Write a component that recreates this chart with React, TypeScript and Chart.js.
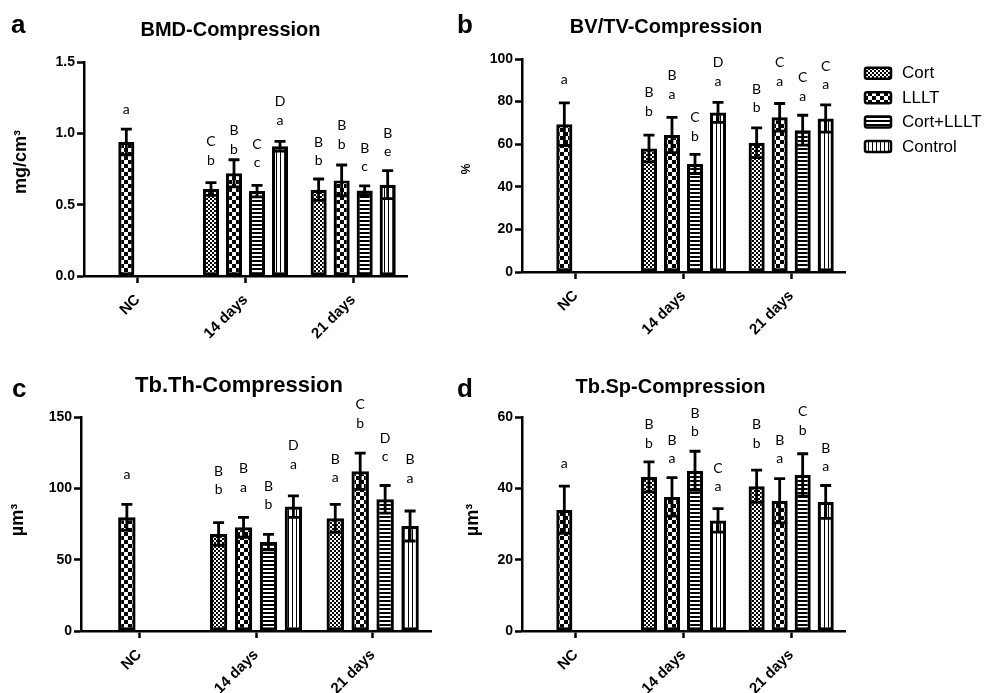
import React, { useEffect, useRef } from "react";
import { Chart, registerables } from "chart.js";
Chart.register(...registerables);

// ---------- shared categories / series ----------
const categories = ["NC", "14 days", "21 days"];
const seriesNames = ["Cort", "LLLT", "Cort+LLLT", "Control"];

// ---------- a: BMD (mg/cm3) ----------
const bmdCort = [null, 0.61, 0.605];
const bmdLllt = [0.94, 0.72, 0.67];
const bmdCortLllt = [null, 0.595, 0.6];
const bmdControl = [null, 0.91, 0.64];
const bmdCortSd = [null, 0.045, 0.075];
const bmdLlltSd = [0.09, 0.095, 0.108];
const bmdCortLlltSd = [null, 0.04, 0.032];
const bmdControlSd = [null, 0.034, 0.098];
const bmdCortSig = ["", "C b", "B b"];
const bmdLlltSig = ["a", "B b", "B b"];
const bmdCortLlltSig = ["", "C c", "B c"];
const bmdControlSig = ["", "D a", "B e"];
const bmdCortSigAt = [null, 0.813, 0.808];
const bmdLlltSigAt = [1.168, 0.89, 0.925];
const bmdCortLlltSigAt = [null, 0.794, 0.766];
const bmdControlSigAt = [null, 1.093, 0.871];
const bmdTicks = [0, 1.5, 0.5];

// ---------- b: BV/TV (%) ----------
const bvCort = [null, 58, 60.7];
const bvLllt = [69.4, 64.3, 72.6];
const bvCortLllt = [null, 50.7, 66.6];
const bvControl = [null, 74.9, 72.1];
const bvCortSd = [null, 6.3, 7];
const bvLlltSd = [10, 8.3, 6.5];
const bvCortLlltSd = [null, 4.5, 7];
const bvControlSd = [null, 4.7, 6.4];
const bvCortSig = ["", "B b", "B b"];
const bvLlltSig = ["a", "B a", "C a"];
const bvCortLlltSig = ["", "C b", "C a"];
const bvControlSig = ["", "D a", "C a"];
const bvCortSigAt = [null, 75.5, 77.1];
const bvLlltSigAt = [90.4, 83.5, 89.6];
const bvCortLlltSigAt = [null, 63.8, 82.5];
const bvControlSigAt = [null, 89.6, 88.0];
const bvTicks = [0, 100, 20];

// ---------- c: Tb.Th (µm3) ----------
const thCort = [null, 68, 79];
const thLllt = [79.7, 72.7, 112];
const thCortLllt = [null, 62.3, 92.3];
const thControl = [null, 87.2, 73.6];
const thCortSd = [null, 7.9, 9.8];
const thLlltSd = [9.1, 7, 12.7];
const thCortLlltSd = [null, 5.4, 9.7];
const thControlSd = [null, 7.5, 10.5];
const thCortSig = ["", "B b", "B a"];
const thLlltSig = ["a", "B a", "C b"];
const thCortLlltSig = ["", "B b", "D c"];
const thControlSig = ["", "D a", "B a"];
const thCortSigAt = [null, 98.9, 107.5];
const thLlltSigAt = [109.4, 100.8, 145.8];
const thCortLlltSigAt = [null, 88.4, 122.3];
const thControlSigAt = [null, 116.9, 107.1];
const thTicks = [0, 150, 50];

// ---------- d: Tb.Sp (µm3) ----------
const spCort = [null, 43.2, 40.6];
const spLllt = [34.0, 37.6, 36.5];
const spCortLllt = [null, 44.9, 43.8];
const spControl = [null, 31.0, 36.2];
const spCortSd = [null, 4.2, 4.5];
const spLlltSd = [6.6, 5.4, 6.2];
const spCortLlltSd = [null, 5.5, 5.9];
const spControlSd = [null, 3.3, 4.6];
const spCortSig = ["", "B b", "B b"];
const spLlltSig = ["a", "B a", "B a"];
const spCortLlltSig = ["", "B b", "C b"];
const spControlSig = ["", "C a", "B a"];
const spCortSigAt = [null, 52.7, 52.7];
const spLlltSigAt = [46.9, 48.3, 48.3];
const spCortLlltSigAt = [null, 55.8, 56.3];
const spControlSigAt = [null, 40.4, 46.0];
const spTicks = [0, 60, 20];

const W = 984;
const H = 693;
const Y_W = 60;
const X_H = 80;
const SANS = "'Liberation Sans', Arial, sans-serif";
const SIG_FONT = "14px Lato, 'Open Sans', sans-serif";

function makeTile(w: number, h: number, draw: (g: CanvasRenderingContext2D) => void) {
  const c = document.createElement("canvas");
  c.width = w;
  c.height = h;
  const g = c.getContext("2d")!;
  g.fillStyle = "#fff";
  g.fillRect(0, 0, w, h);
  g.fillStyle = "#000";
  draw(g);
  return g.createPattern(c, "repeat")!;
}

function makePatterns() {
  return [
    makeTile(4, 4, (g) => { g.fillRect(0, 0, 2, 2); g.fillRect(2, 2, 2, 2); }),
    makeTile(8, 8, (g) => { g.fillRect(0, 0, 4, 4); g.fillRect(4, 4, 4, 4); }),
    makeTile(4, 4, (g) => { g.fillRect(0, 0, 4, 2); }),
    makeTile(4, 4, (g) => { g.fillRect(0, 0, 1, 4); }),
  ];
}

const decorPlugin = {
  id: "decor",
  afterDatasetsDraw(chart: any) {
    const ctx = chart.ctx;
    const ys = chart.scales.y;
    ctx.save();
    chart.data.datasets.forEach((ds: any, i: number) => {
      const meta = chart.getDatasetMeta(i);
      ds.data.forEach((v: number | null, j: number) => {
        if (v == null) return;
        const el = meta.data[j];
        const x = el.x;
        const sd = ds.sd[j] || 0;
        const t = ys.getPixelForValue(v + sd);
        const b = ys.getPixelForValue(v - sd);
        ctx.strokeStyle = "#000";
        ctx.lineWidth = 2.8;
        ctx.beginPath();
        ctx.moveTo(x, t);
        ctx.lineTo(x, b);
        ctx.moveTo(x - 5.5, t);
        ctx.lineTo(x + 5.5, t);
        ctx.moveTo(x - 5.5, b);
        ctx.lineTo(x + 5.5, b);
        ctx.stroke();
        const parts = String(ds.sig[j] || "").split(" ").filter((s: string) => s);
        if (parts.length && ds.sigAt[j] != null) {
          const ly = ys.getPixelForValue(ds.sigAt[j]);
          ctx.fillStyle = "#000";
          ctx.font = SIG_FONT;
          ctx.textAlign = "center";
          ctx.textBaseline = "middle";
          for (let k = 0; k < parts.length; k++) {
            ctx.fillText(parts[parts.length - 1 - k], x, ly - k * 18.5);
          }
        }
      });
    });
    ctx.restore();
  },
  afterDraw(chart: any, _a: any, o: any) {
    const ctx = chart.ctx;
    ctx.save();
    ctx.fillStyle = "#000";
    // panel letter
    ctx.font = `bold 26px ${SANS}`;
    ctx.textAlign = "left";
    ctx.textBaseline = "alphabetic";
    ctx.fillText(o.letter, o.letterX, o.letterY);
    // title
    ctx.font = `bold ${o.titleSize}px ${SANS}`;
    ctx.textAlign = "center";
    ctx.fillText(o.title, o.titleX, o.titleY);
    // y-axis title
    ctx.save();
    ctx.translate(o.yTitleX, o.yTitleY);
    ctx.rotate(-Math.PI / 2);
    ctx.font = `bold ${o.yTitleSize}px ${SANS}`;
    ctx.textAlign = "center";
    ctx.textBaseline = "alphabetic";
    ctx.fillText(o.yTitle, 0, 0);
    ctx.restore();
    // legend
    if (o.legend) {
      const L = o.legend;
      chart.data.datasets.forEach((ds: any, i: number) => {
        const cy = L.y + i * L.step;
        ctx.beginPath();
        ctx.roundRect(L.x, cy - 5.5, 26, 11, 2);
        ctx.fillStyle = ds.backgroundColor;
        ctx.fill();
        ctx.strokeStyle = "#000";
        ctx.lineWidth = 2.5;
        ctx.stroke();
        ctx.fillStyle = "#000";
        ctx.font = `17px ${SANS}`;
        ctx.textAlign = "left";
        ctx.textBaseline = "middle";
        ctx.fillText(ds.label, L.x + 37, cy + 0.5);
      });
    }
    ctx.restore();
  },
};

type PanelDef = {
  area: { left: number; top: number; right: number; bottom: number };
  series: (number | null)[][];
  sds: (number | null)[][];
  sigs: string[][];
  sigAts: (number | null)[][];
  ticks: number[];
  decimals: number;
  decor: any;
};

const panels: PanelDef[] = [
  {
    area: { left: 84, top: 62, right: 407, bottom: 276 },
    series: [bmdCort, bmdLllt, bmdCortLllt, bmdControl],
    sds: [bmdCortSd, bmdLlltSd, bmdCortLlltSd, bmdControlSd],
    sigs: [bmdCortSig, bmdLlltSig, bmdCortLlltSig, bmdControlSig],
    sigAts: [bmdCortSigAt, bmdLlltSigAt, bmdCortLlltSigAt, bmdControlSigAt],
    ticks: bmdTicks,
    decimals: 1,
    decor: {
      letter: "a", letterX: 11, letterY: 33,
      title: "BMD-Compression", titleX: 230.5, titleY: 36, titleSize: 20,
      yTitle: "mg/cm³", yTitleX: 26, yTitleY: 162, yTitleSize: 18,
    },
  },
  {
    area: { left: 522, top: 59, right: 845, bottom: 272 },
    series: [bvCort, bvLllt, bvCortLllt, bvControl],
    sds: [bvCortSd, bvLlltSd, bvCortLlltSd, bvControlSd],
    sigs: [bvCortSig, bvLlltSig, bvCortLlltSig, bvControlSig],
    sigAts: [bvCortSigAt, bvLlltSigAt, bvCortLlltSigAt, bvControlSigAt],
    ticks: bvTicks,
    decimals: 0,
    decor: {
      letter: "b", letterX: 457, letterY: 33,
      title: "BV/TV-Compression", titleX: 666, titleY: 33, titleSize: 20,
      yTitle: "%", yTitleX: 470, yTitleY: 169, yTitleSize: 12,
      legend: { x: 865, y: 73.3, step: 24.4 },
    },
  },
  {
    area: { left: 81, top: 417, right: 431, bottom: 631 },
    series: [thCort, thLllt, thCortLllt, thControl],
    sds: [thCortSd, thLlltSd, thCortLlltSd, thControlSd],
    sigs: [thCortSig, thLlltSig, thCortLlltSig, thControlSig],
    sigAts: [thCortSigAt, thLlltSigAt, thCortLlltSigAt, thControlSigAt],
    ticks: thTicks,
    decimals: 0,
    decor: {
      letter: "c", letterX: 12, letterY: 397,
      title: "Tb.Th-Compression", titleX: 239, titleY: 392, titleSize: 22,
      yTitle: "µm³", yTitleX: 23, yTitleY: 520, yTitleSize: 18,
    },
  },
  {
    area: { left: 522, top: 417, right: 845, bottom: 631 },
    series: [spCort, spLllt, spCortLllt, spControl],
    sds: [spCortSd, spLlltSd, spCortLlltSd, spControlSd],
    sigs: [spCortSig, spLlltSig, spCortLlltSig, spControlSig],
    sigAts: [spCortSigAt, spLlltSigAt, spCortLlltSigAt, spControlSigAt],
    ticks: spTicks,
    decimals: 0,
    decor: {
      letter: "d", letterX: 457, letterY: 397,
      title: "Tb.Sp-Compression", titleX: 670.5, titleY: 393, titleSize: 20,
      yTitle: "µm³", yTitleX: 478, yTitleY: 520, yTitleSize: 18,
    },
  },
];

function buildConfig(p: PanelDef, patterns: CanvasPattern[]): any {
  const yFont = { family: SANS, size: 14, weight: "bold" as const };
  const xFont = { family: SANS, size: 15, weight: "bold" as const };
  return {
    type: "bar",
    data: {
      labels: categories,
      datasets: seriesNames.map((name, i) => ({
        label: name,
        data: p.series[i],
        sd: p.sds[i],
        sig: p.sigs[i],
        sigAt: p.sigAts[i],
        backgroundColor: patterns[i],
        borderColor: "#000",
        borderWidth: 3.2,
        borderSkipped: false,
        categoryPercentage: 0.855,
        barPercentage: 0.7,
      })),
    },
    options: {
      responsive: false,
      animation: false,
      events: [],
      layout: {
        padding: {
          left: p.area.left - Y_W,
          top: p.area.top,
          right: W - p.area.right,
          bottom: H - p.area.bottom - X_H,
        },
      },
      plugins: {
        legend: { display: false },
        tooltip: { enabled: false },
        title: { display: false },
        decor: p.decor,
      },
      scales: {
        x: {
          offset: true,
          grid: { offset: false, drawOnChartArea: false, tickLength: 7, tickWidth: 2.5, tickColor: "#000" },
          border: { color: "#000", width: 2.5 },
          ticks: { font: xFont, color: "#000", minRotation: 45, maxRotation: 45, autoSkip: false, padding: 8 },
          afterFit: (s: any) => { s.height = X_H; },
        },
        y: {
          min: p.ticks[0],
          max: p.ticks[1],
          grid: { drawOnChartArea: true, color: "rgba(0,0,0,0)", tickLength: 7, tickWidth: 2.5, tickColor: "#000" },
          border: { color: "#000", width: 2.5 },
          ticks: {
            stepSize: p.ticks[2],
            font: yFont,
            color: "#000",
            padding: 2,
            callback: (v: number) => Number(v).toFixed(p.decimals),
          },
          afterFit: (s: any) => { s.width = Y_W; },
        },
      },
    },
    plugins: [decorPlugin],
  };
}

function PanelChart({ def }: { def: PanelDef }) {
  const ref = useRef<HTMLCanvasElement | null>(null);
  useEffect(() => {
    if (!ref.current) return;
    const chart = new Chart(ref.current, buildConfig(def, makePatterns()));
    return () => chart.destroy();
  }, [def]);
  return (
    <canvas
      ref={ref}
      width={W}
      height={H}
      style={{ position: "absolute", left: 0, top: 0, width: W, height: H }}
    />
  );
}

export default function App() {
  return (
    <div style={{ position: "absolute", left: 0, top: 0, width: W, height: H, background: "#fff" }}>
      {panels.map((p, i) => (
        <PanelChart key={i} def={p} />
      ))}
    </div>
  );
}
